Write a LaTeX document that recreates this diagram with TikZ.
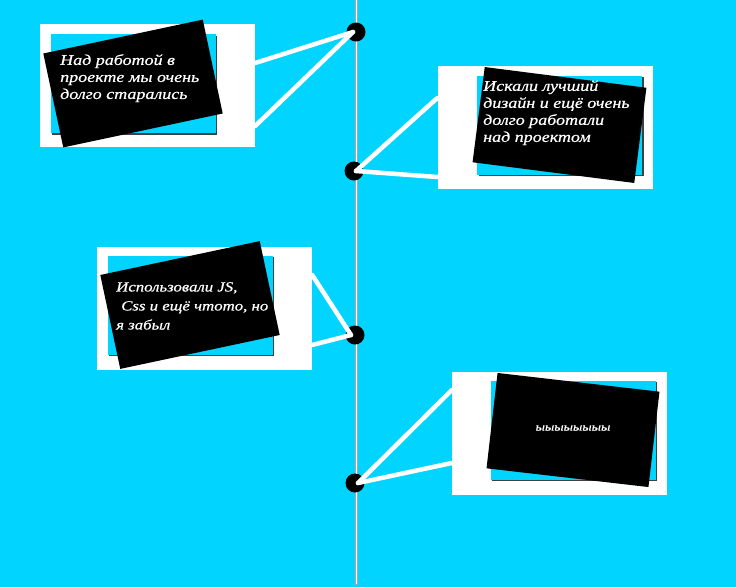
\documentclass[tikz,border=0pt]{standalone}
\usepackage{fontspec}
\newfontfamily\handfont{Liberation Serif}[UprightFont=* Italic, FakeStretch=1.2, FakeBold=0.6]
\definecolor{sky}{RGB}{0,212,255}
\begin{document}
\begin{tikzpicture}[x=1pt, y=-1pt,
  dot/.style={circle, fill=black, minimum size=19, inner sep=0pt},
  paper/.style={fill=white, minimum width=215, minimum height=123, inner sep=0pt},
  panel/.style={fill=sky, minimum width=165, minimum height=99, inner sep=0pt},
  card/.style={fill=black, minimum width=163, minimum height=96, inner sep=0pt},
  note/.style={text=white, font=\handfont\fontsize{15}{17}\selectfont, align=left, inner sep=0pt, anchor=north west},
  link/.style={white, line width=4.5, line cap=round}]
  % Background
  \fill[sky] (0,0) rectangle (736,587);
  \useasboundingbox (0,0) rectangle (736,587);
  % Timeline
  \draw[gray!70, line width=3] (356,0) -- (356,585);
  \draw[white, line width=1] (356,0) -- (356,584);
  % Cards
  \foreach \i/\wx/\wy/\cx/\cy/\r in {1/147.5/85.5/133/83.5/12, 2/545/127.5/559.5/125/-7.3,
      3/204.5/308/190/305/12, 4/559.5/433/573/430/-6.6} {
    \node[paper] (w\i) at (\wx,\wy) {};
    \fill[black!75] (\cx+1.5,\cy+1.5) ++(-82.5,-49.5) rectangle ++(165,99);
    \node[panel] (p\i) at (\cx,\cy) {};
    \node[card, rotate=\r] (c\i) at (\cx,\cy) {};
  }
  % Texts
  \node[note] (t1) at (60,54) {Над работой в\\проекте мы очень\\долго старались};
  \node[note] (t2) at (483,80) {Искали лучший\\дизайн и ещё очень\\долго работали\\над проектом};
  \node[note, font=\handfont\fontsize{14}{19}\selectfont] (t3) at (116,282)
    {Использовали JS,\\\hspace*{5pt}Css и ещё чтото, но\\я забыл};
  \node[text=white, font=\handfont\fontsize{11.5}{12}\selectfont] (t4) at (573,428) {ыыыыыыыы};
  % Dots
  \node[dot] (d1) at (356,32) {};
  \node[dot] (d2) at (354,171) {};
  \node[dot] (d3) at (355,335) {};
  \node[dot] (d4) at (355,483) {};
  % Links
  \draw[link] ([xshift=-3pt]d1.center) -- ([yshift=22.5pt]w1.east);
  \draw[link] ([xshift=-3pt]d1.center) -- ([yshift=-40.5pt]w1.east);
  \draw[link] ([xshift=2pt]d2.center) -- ([yshift=29.5pt]w2.west);
  \draw[link] ([xshift=2pt]d2.center) -- ([yshift=-49.5pt]w2.west);
  \draw[link] ([xshift=-4pt]d3.center) -- ([yshift=33pt]w3.east);
  \draw[link] ([xshift=-4pt]d3.center) -- ([yshift=-37pt]w3.east);
  \draw[link] ([xshift=3pt]d4.center) -- ([yshift=43pt]w4.west);
  \draw[link] ([xshift=3pt]d4.center) -- ([yshift=-30pt]w4.west);
\end{tikzpicture}
\end{document}
